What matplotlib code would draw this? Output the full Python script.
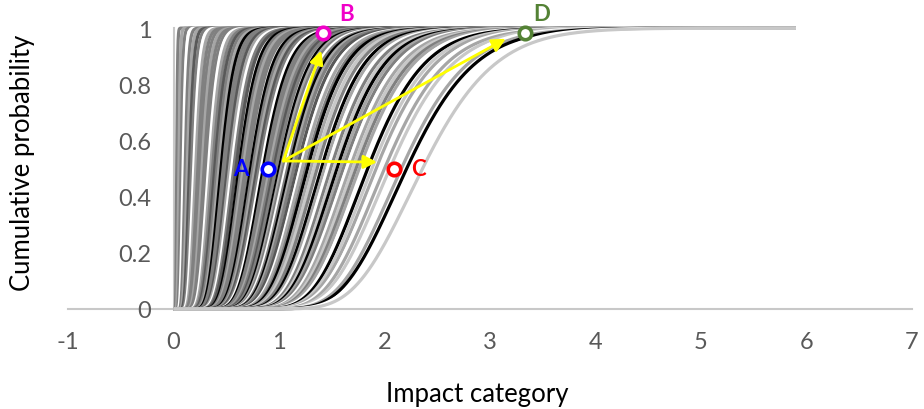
import math
import numpy as np
import matplotlib
matplotlib.use("Agg")
import matplotlib.pyplot as plt

plt.rcParams['font.family'] = ['Lato', 'DejaVu Sans']

# Medianas (x en probabilidad 0.5) y colores de cada curva acumulada
medians = [0.03, 0.05, 0.07, 0.09, 0.11, 0.13, 0.15, 0.17, 0.19, 0.21,
           0.23, 0.25, 0.27, 0.29, 0.31, 0.33, 0.35, 0.37, 0.39, 0.41,
           0.43, 0.45, 0.47, 0.49, 0.51, 0.53, 0.55, 0.57, 0.59, 0.62,
           0.64, 0.66, 0.68, 0.70, 0.73, 0.75, 0.77, 0.79, 0.81, 0.83,
           0.85, 0.87, 0.89, 0.91, 0.93, 0.95, 0.97, 1.00, 1.02, 1.04,
           1.06, 1.08, 1.10, 1.12, 1.14, 1.17, 1.20, 1.22, 1.25, 1.27,
           1.30, 1.33, 1.36, 1.40, 1.43, 1.46, 1.49, 1.52, 1.55, 1.58,
           1.61, 1.64, 1.67, 1.70, 1.73, 1.76, 1.80, 1.84, 1.88, 1.92,
           1.96, 2.00, 2.05, 2.10, 2.16, 2.21, 2.28, 2.36]
shades = "mlmwmldmwl" \
         "mmlmmwlmdm" \
         "lkmmdlwmdk" \
         "mlmmkmldmw" \
         "kmmlmdmklm" \
         "wmklmdwlmk" \
         "lpmklwmpkl" \
         "mwlpmlwkpl" \
         "wlpwlkwp"
shade_colors = {'k': '#000000', 'd': '#595959', 'm': '#808080',
                'l': '#A6A6A6', 'p': '#C8C8C8', 'w': '#FFFFFF'}
sigma = 0.225   # desviacion en log

# Puntos marcados y flechas
points_x = [0.90, 1.42, 2.09, 3.33]
points_y = [0.50, 0.982, 0.50, 0.982]
point_names = ['A', 'B', 'C', 'D']
point_colors = ['#0000FF', '#F000C8', '#FF0000', '#548235']
arrow_start = (1.04, 0.527)
arrow_ends = [(1.40, 0.92), (1.93, 0.523), (3.15, 0.962)]

x_ticks = [-1, 0, 1, 2, 3, 4, 5, 6, 7]
y_ticks = [0, 0.2, 0.4, 0.6, 0.8, 1]

fig = plt.figure(figsize=(9.24, 4.10), dpi=100)
ax = fig.add_axes([0.0736, 0.244, 0.9134, 0.685])

xs = np.concatenate([[0.0], np.geomspace(0.005, 5.9, 3000)])
for med, s in zip(medians, shades):
    z = (np.log(xs[1:]) - math.log(med)) / sigma
    cdf = 0.5 * (1 + np.array([math.erf(v / math.sqrt(2)) for v in z]))
    ax.plot(xs, np.concatenate([[0.0], cdf]), color=shade_colors[s],
            lw=2.3, solid_capstyle='butt', clip_on=False, zorder=2)

for xe, ye in arrow_ends:
    ax.annotate('', xy=(xe, ye), xytext=arrow_start,
                arrowprops=dict(arrowstyle='-|>', color='#FFFF00', lw=2,
                                mutation_scale=20, shrinkA=0, shrinkB=0),
                zorder=4, annotation_clip=False)

for px, py, name, c in zip(points_x, points_y, point_names, point_colors):
    ax.plot(px, py, 'o', ms=9, mfc='white', mec=c, mew=2.6, clip_on=False,
            zorder=5)

label_offsets = {'A': (-0.26, 0.0), 'B': (0.22, 0.07), 'C': (0.23, 0.0),
                 'D': (0.16, 0.07)}
for px, py, name, c in zip(points_x, points_y, point_names, point_colors):
    dx, dy = label_offsets[name]
    ax.text(px + dx, py + dy, name, color=c, fontsize=16, fontweight='bold',
            ha='center', va='center', zorder=6)

ax.set_xlim(-1, 7)
ax.set_ylim(0, 1)
ax.set_xticks(x_ticks)
ax.set_yticks(y_ticks)
ax.set_xticklabels([str(t) for t in x_ticks])
ax.set_yticklabels(['0', '0.2', '0.4', '0.6', '0.8', '1'])
ax.tick_params(length=0, labelsize=17, labelcolor='#595959')
ax.tick_params(axis='x', pad=16)
ax.tick_params(axis='y', pad=16)

for side in ['top', 'right']:
    ax.spines[side].set_visible(False)
ax.spines['left'].set_position(('data', 0))
for side in ['left', 'bottom']:
    ax.spines[side].set_color('#C8C8C8')
    ax.spines[side].set_linewidth(1.5)
    ax.spines[side].set_zorder(1)

fig.text(0.517, 0.037, 'Impact category', fontsize=18.5,
         ha='center', va='center')
fig.text(0.024, 0.603, 'Cumulative probability', rotation=90, fontsize=18.5,
         ha='center', va='center')

fig.savefig('out.png', dpi=100)
